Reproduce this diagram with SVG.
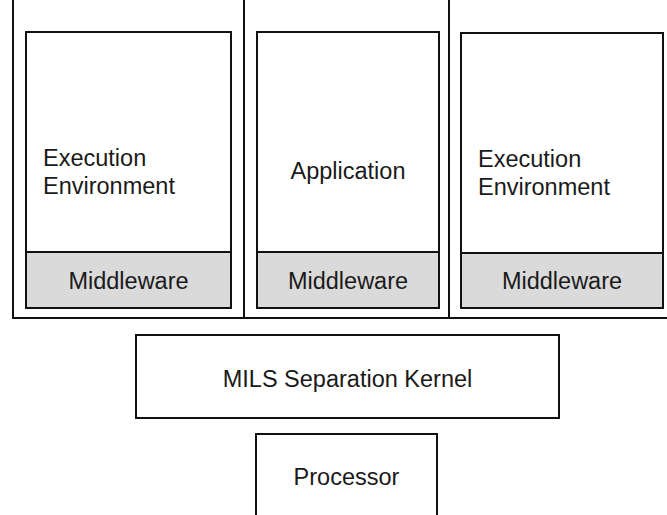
<svg xmlns="http://www.w3.org/2000/svg" width="667" height="515" viewBox="0 0 667 515">
<style>
.box{fill:#fff;stroke:#111;stroke-width:2}
.mw{fill:#dadada;stroke:#111;stroke-width:2}
.ln{stroke:#111;stroke-width:2;fill:none}
text{font-family:"Liberation Sans",Arial,sans-serif;font-size:23.5px;fill:#1a1a1a}
.c{text-anchor:middle}
</style>
<rect width="667" height="515" fill="#fff"/>
<g id="connectors">
<path class="ln" d="M13,0 V318 H667"/>
<path class="ln" d="M244,0 V318"/>
<path class="ln" d="M449,0 V318"/>
</g>
<g id="partition1">
<rect class="box" x="26" y="32" width="205" height="220"/>
<text x="43" y="166">Execution</text>
<text x="43" y="194">Environment</text>
</g>
<g id="middleware1">
<rect class="mw" x="26" y="252" width="205" height="56"/>
<text class="c" x="128.5" y="289">Middleware</text>
</g>
<g id="partition2">
<rect class="box" x="257" y="32" width="182" height="220"/>
<text class="c" x="348" y="179">Application</text>
</g>
<g id="middleware2">
<rect class="mw" x="257" y="252" width="182" height="56"/>
<text class="c" x="348" y="289">Middleware</text>
</g>
<g id="partition3">
<rect class="box" x="461" y="33" width="202" height="220"/>
<text x="478" y="167">Execution</text>
<text x="478" y="195">Environment</text>
</g>
<g id="middleware3">
<rect class="mw" x="461" y="253" width="202" height="55"/>
<text class="c" x="562" y="289">Middleware</text>
</g>
<g id="kernel">
<rect class="box" x="136" y="335" width="423" height="83"/>
<text class="c" x="347.5" y="387">MILS Separation Kernel</text>
</g>
<g id="processor">
<rect class="box" x="256" y="434" width="181" height="90"/>
<text class="c" x="346.5" y="485">Processor</text>
</g>
</svg>
